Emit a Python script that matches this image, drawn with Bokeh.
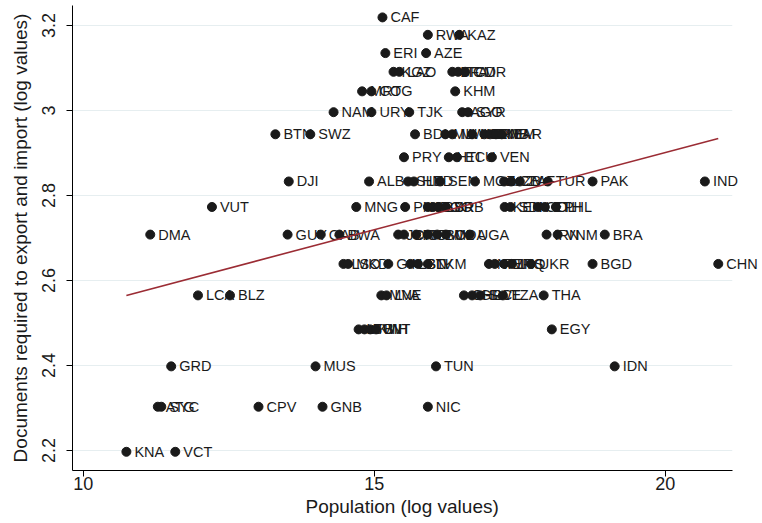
from bokeh.plotting import figure
from bokeh.models import Range1d, FixedTicker, ColumnDataSource, CustomJSTickFormatter, Title
from bokeh.embed import file_html
from bokeh.resources import INLINE
from bokeh.core.properties import value

# ---- data ----
codes = [
    "CAF",
    "RWA", "KAZ",
    "ERI", "AZE",
    "KGZ", "LAO", "BFA", "TCD", "CMR",
    "MRT", "COG", "KHM",
    "NAM", "URY", "TJK", "AGO", "SYR",
    "BTN", "SWZ", "BDI", "MLI", "MWI", "NER", "ZWE", "ZMB", "YEM", "MAR",
    "PRY", "HTI", "ECU", "VEN",
    "DJI", "ALB", "SLE", "HND", "SEN", "MOZ", "UZB", "CIV", "ZAF", "TUR", "PAK", "IND",
    "VUT", "MNG", "PNG", "LBY", "TGO", "LBR", "SRB", "KEN", "SDN", "COL", "ETH", "PHL",
    "DMA", "GUY", "GAB", "BWA", "JOR", "CRI", "ISR", "OMN", "BOL", "MDA", "UGA", "IRN", "VNM", "BRA",
    "LSO", "MKD", "GIN", "LBN", "SLV", "TKM", "NPL", "PER", "MYS", "IRQ", "UKR", "BGD", "CHN",
    "LCA", "BLZ", "MNE", "LVA", "CHL", "GRC", "SWE", "TZA", "THA",
    "LTU", "SVN", "KWT", "BIH", "EGY",
    "GRD", "MUS", "TUN", "IDN",
    "ATG", "SYC", "CPV", "GNB", "NIC",
    "KNA", "VCT",
]
pop_log = [
    15.14,
    15.92, 16.46,
    15.19, 15.89,
    15.33, 15.43, 16.34, 16.44, 16.56,
    14.79, 14.95, 16.39,
    14.30, 14.95, 15.60, 16.51, 16.61,
    13.30, 13.90, 15.70, 16.22, 16.34, 16.68, 16.89, 16.99, 17.09, 17.19,
    15.51, 16.28, 16.42, 17.02,
    13.53, 14.91, 15.58, 15.68, 16.13, 16.73, 17.23, 17.35, 17.50, 17.98, 18.75, 20.68,
    12.21, 14.69, 15.53, 15.92, 16.01, 16.10, 16.23, 17.24, 17.34, 17.81, 17.93, 18.12,
    11.15, 13.51, 14.08, 14.40, 15.41, 15.51, 15.72, 15.92, 16.08, 16.23, 16.64, 17.96, 18.15, 18.96,
    14.47, 14.55, 15.24, 15.62, 15.75, 15.92, 16.97, 17.07, 17.23, 17.36, 17.69, 18.75, 20.91,
    11.97, 12.52, 15.12, 15.21, 16.54, 16.68, 16.82, 17.21, 17.91,
    14.73, 14.83, 14.93, 15.03, 18.05,
    11.51, 13.99, 16.06, 19.13,
    11.28, 11.34, 13.01, 14.11, 15.92,
    10.74, 11.58,
]
docs_log = (
    [3.219]
    + [3.178] * 2
    + [3.135] * 2
    + [3.091] * 5
    + [3.045] * 3
    + [2.996] * 5
    + [2.944] * 10
    + [2.890] * 4
    + [2.833] * 12
    + [2.773] * 12
    + [2.708] * 14
    + [2.639] * 13
    + [2.565] * 9
    + [2.485] * 5
    + [2.398] * 4
    + [2.303] * 5
    + [2.197] * 2
)

# fitted line
fit_intercept = 2.175
fit_slope = 0.0363

x_ticks = [10, 15, 20]
y_ticks = [2.2, 2.4, 2.6, 2.8, 3.0, 3.2]
x_title = "Population (log values)"
y_title = "Documents required to export and import (log values)"

# layout (axis extents and title placement)
x_axis_bounds = (9.814, 21.15)
y_axis_bounds = (2.153, 3.247)

# ---- figure ----
FONT = "Liberation Sans"
p = figure(
    width=762, height=522,
    x_range=Range1d(9.814, 21.67),
    y_range=Range1d(2.153, 3.247),
    output_backend="svg", toolbar_location=None,
    min_border_left=72, min_border_right=0, min_border_top=5, min_border_bottom=52,
)
p.outline_line_color = None
p.background_fill_color = "white"
p.border_fill_color = "white"
p.xgrid.visible = False
p.ygrid.visible = False

# horizontal grid lines at the y ticks, limited to the axis extent
p.segment(x0=[x_axis_bounds[0]] * len(y_ticks), x1=[x_axis_bounds[1]] * len(y_ticks),
          y0=y_ticks, y1=y_ticks, line_color="#e6eef0", line_width=1.2)

src = ColumnDataSource(dict(x=pop_log, y=docs_log, code=codes))
p.scatter("x", "y", source=src, marker="circle", size=9,
          fill_color="#1a1a1a", line_color="#1a1a1a")
p.text("x", "y", text="code", source=src, x_offset=8, text_baseline="middle",
       text_align="left", text_font=value(FONT), text_font_size="14.5px",
       text_color="#1a1a1a")

fx = [min(pop_log), max(pop_log)]
fy = [fit_intercept + fit_slope * v for v in fx]
p.line(fx, fy, line_color="#9b2c34", line_width=1.6)

fmt = CustomJSTickFormatter(code="return tick.toString();")
for ax, ticks, bounds in ((p.xaxis[0], x_ticks, x_axis_bounds), (p.yaxis[0], y_ticks, y_axis_bounds)):
    ax.ticker = FixedTicker(ticks=ticks)
    ax.formatter = fmt
    ax.bounds = bounds
    ax.minor_tick_line_color = None
    ax.major_tick_in = 0
    ax.major_tick_out = 6
    ax.axis_line_color = "black"
    ax.major_tick_line_color = "black"
    ax.major_label_text_font = FONT
    ax.major_label_text_font_size = "18px"
    ax.major_label_text_color = "#1a1a1a"
    ax.axis_label_text_font = FONT
    ax.axis_label_text_font_size = "19px"
    ax.axis_label_text_font_style = "normal"
    ax.axis_label_text_color = "#1a1a1a"

p.yaxis.axis_label = y_title
p.yaxis.major_label_orientation = "vertical"
p.xaxis.major_label_standoff = 0
p.yaxis.major_label_standoff = 11
p.yaxis.axis_label_standoff = 9

# x-axis title, centred under the drawn axis line (not under the wider frame)
p.add_layout(Title(text=x_title, align="left", offset=233, standoff=2,
                   text_font=FONT, text_font_size="19px", text_font_style="normal",
                   text_color="#1a1a1a"), "below")

open("out.html", "w").write(file_html(p, INLINE))
